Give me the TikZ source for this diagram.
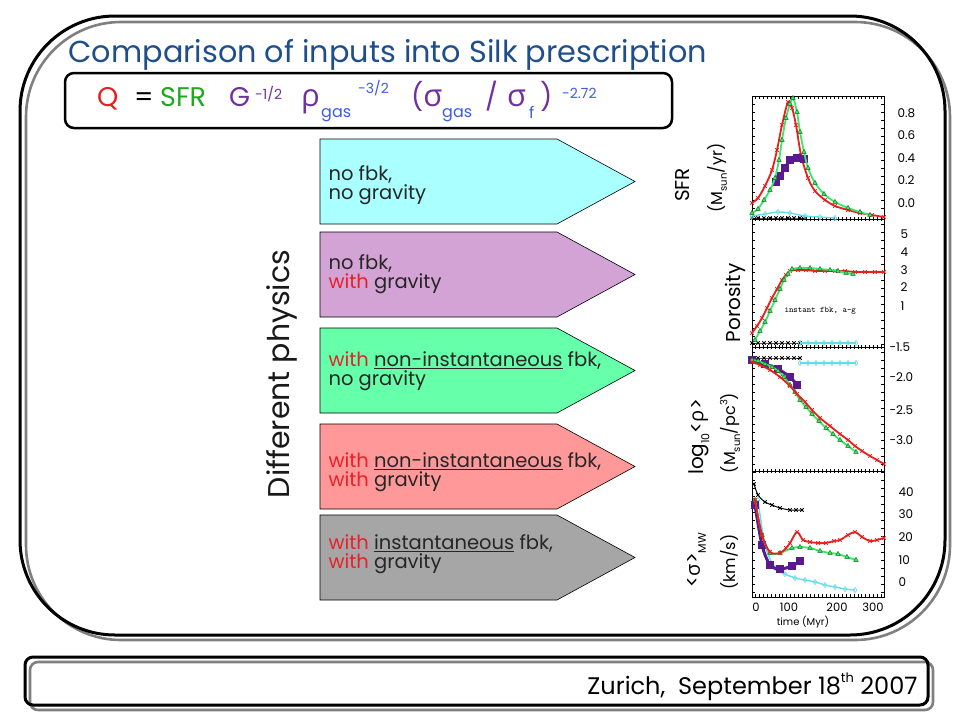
\documentclass[tikz,border=0pt]{standalone}
\usepackage{fontspec}
\setmainfont{Poppins}
\newfontfamily\greekfont{Open Sans}
\usetikzlibrary{plotmarks}

\definecolor{titleblue}{RGB}{31,78,140}
\definecolor{qred}{RGB}{230,30,30}
\definecolor{sfrgreen}{RGB}{30,170,30}
\definecolor{gpurple}{RGB}{112,48,160}
\definecolor{gasblue}{RGB}{60,90,230}
\definecolor{withred}{RGB}{232,32,42}
\definecolor{fbcyan}{RGB}{170,255,255}
\definecolor{fbpurple}{RGB}{210,163,212}
\definecolor{fbgreen}{RGB}{102,255,170}
\definecolor{fbpink}{RGB}{255,153,153}
\definecolor{fbgray}{RGB}{166,166,166}
\definecolor{runred}{RGB}{235,30,30}
\definecolor{rungreen}{RGB}{60,230,110}
\definecolor{runpurple}{RGB}{90,25,140}
\definecolor{runcyan}{RGB}{100,220,235}

\newcommand\sups[1]{\raisebox{0.5em}{\fontsize{15}{15}\selectfont #1}}
\newcommand\subs[1]{\raisebox{-0.3em}{\fontsize{15}{15}\selectfont #1}}
\newcommand\withr{\textcolor{withred}{with}}

\begin{document}
\begin{tikzpicture}[x=1pt,y=-1pt,
  phystext/.style={anchor=west,align=left,font=\fontsize{19.5}{19}\selectfont,text=black!85},
  axislabel/.style={rotate=90,font=\fontsize{20}{20}\selectfont},
  unitlabel/.style={rotate=90,font=\fontsize{16}{16}\selectfont},
  ticklabel/.style={anchor=west,font=\fontsize{12}{12}\selectfont},
  redrun/.style={draw=runred,line width=1.8pt,mark=x,mark size=2.4pt,mark options={line width=0.9pt}},
  greenrun/.style={draw=rungreen,line width=1.8pt,mark=triangle*,mark size=2.6pt,mark options={fill=rungreen,draw=green!40!black,line width=0.4pt}},
  purplerun/.style={draw=runpurple,line width=3pt,mark=square*,mark size=2.2pt,mark options={fill=runpurple}},
  cyanrun/.style={draw=runcyan,line width=1.4pt,mark=diamond,mark size=2.6pt,mark options={line width=0.6pt}},
  blackrun/.style={draw=black,line width=1pt,mark=x,mark size=2.4pt,mark options={line width=0.8pt}}]
\useasboundingbox (0,0) rectangle (960,720);

% slide frames
\draw[black!50,line width=2.6pt,rounded corners=95pt] (26,22) rectangle (950,640);
\draw[black,line width=3pt,rounded corners=95pt] (20,16) rectangle (945,635);
\draw[black!50,line width=2.6pt,rounded corners=8pt] (30,662) rectangle (933,710);
\draw[black,line width=3pt,rounded corners=8pt] (25,657) rectangle (928,705);

% title and formula
\node[anchor=base west,text=titleblue,font=\fontsize{30.3}{30.3}\selectfont] (title) at (65,62)
  {Comparison of inputs into Silk prescription};
\draw[line width=2.5pt,rounded corners=9pt] (65,73) rectangle (672,128);
\foreach \xx/\yy/\col/\sz/\nm/\txt in {
  97/106/qred/27/qsym/Q, 134/106/black/27/eqsym/=, 160/106/sfrgreen/27/sfrsym/SFR,
  229/106/gpurple/27/gsym/G, 255/99/gpurple/14/gexp/{-1/2},
  301/106/gpurple/31/rhosym/{\greekfont ρ}, 321/117/gasblue/16/rhosub/gas, 358/93/gasblue/14/rhoexp/{-3/2},
  411/106/gpurple/27/sigsym/{({\fontsize{31}{31}\greekfont σ}}, 442/117/gasblue/16/sigsub/gas,
  485/106/gpurple/27/slash/{/}, 507/106/gpurple/31/sigf/{\greekfont σ}, 529/118/gasblue/16/fsub/f,
  540/106/gpurple/27/rpar/), 562/98/gasblue/14/qexp/{-2.72}}
  \node[anchor=base west,inner sep=0pt,text=\col,font=\fontsize{\sz}{\sz}\selectfont] (\nm) at (\xx,\yy) {\txt};

% the five runs
\node[rotate=90,font=\fontsize{30}{30}\selectfont,text=black!90] (physics) at (282,374) {Different physics};
\foreach \ytop/\fillc/\dy/\nm/\txt in {
  139/fbcyan/46/nofbknograv/{no fbk,\\no gravity},
  232/fbpurple/42/nofbkgrav/{no fbk,\\\withr{} gravity},
  328/fbgreen/43/nonintnograv/{\withr{} \underline{non-instantaneous} fbk,\\no gravity},
  424/fbpink/48/nonintgrav/{\withr{} \underline{non-instantaneous} fbk,\\\withr{} gravity},
  515/fbgray/39/instgrav/{\withr{} \underline{instantaneous} fbk,\\\withr{} gravity}}{
  \draw[fill=\fillc,line width=0.6pt] (320,\ytop) -- (557,\ytop) -- (635,\ytop+42.5)
    -- (557,\ytop+85) -- (320,\ytop+85) -- cycle;
  \node[phystext] (\nm) at (325,\ytop+\dy) {\txt};
}

% stacked plots
\draw[line width=0.6pt] (752,96) rectangle (884,597);
\foreach \yb in {219,347,471} \draw[line width=0.6pt] (752,\yb) -- (884,\yb);
\foreach \t in {0,10,...,320} {
  \foreach \yb in {219,347,471} \draw[line width=0.4pt] (755+\t*0.395,\yb-2) -- (755+\t*0.395,\yb+2);
  \draw[line width=0.4pt] (755+\t*0.395,96) -- (755+\t*0.395,99);
  \draw[line width=0.4pt] (755+\t*0.395,597) -- (755+\t*0.395,594);
}
\foreach \yy in {104,112,...,592} {
  \draw[line width=0.4pt] (752,\yy) -- (755,\yy);
  \draw[line width=0.4pt] (884,\yy) -- (881,\yy);
}

% SFR
\draw[blackrun] plot coordinates {(752,218) (758,218) (764,218) (770,218) (776,218) (782,218) (788,218) (794,218) (800,218) (805,218)};
\draw[cyanrun] plot[smooth] coordinates {(752,216) (765,214) (778,212) (790,213) (805,216) (820,217) (835,218)};
\draw[redrun] plot[smooth] coordinates {(752,203) (758,198) (765,186) (772,170) (777,150) (782,125) (788,102) (792,108) (796,125) (801,155) (808,178) (815,191) (825,200) (835,206) (848,210) (860,213) (872,215) (884,217)};
\draw[purplerun] plot[smooth] coordinates {(776,182) (780,176) (785,168) (790,160) (797,158) (804,159)};
\draw[greenrun] plot[smooth] coordinates {(752,213) (758,209) (764,200) (770,190) (775,178) (779,160) (782,140) (786,118) (790,104) (793,98) (797,112) (800,132) (804,152) (808,168) (815,183) (824,194) (835,202) (848,208) (860,212) (870,215)};

% porosity
\draw[blackrun] plot coordinates {(752,343) (758,343) (764,343) (770,343) (776,343) (782,343) (788,343) (794,343) (800,343)};
\draw[cyanrun] plot coordinates {(800,343) (808,343) (816,343) (824,343) (832,343) (840,343) (848,343) (856,343)};
\draw[redrun] plot[smooth] coordinates {(752,333) (757,326) (762,318) (767,308) (772,298) (777,289) (782,280) (786,275) (790,271) (798,270) (806,270) (815,271) (825,271) (835,271) (845,271) (855,272) (865,272) (875,272) (884,272)};
\draw[greenrun] plot[smooth] coordinates {(755,340) (760,331) (765,322) (770,311) (775,300) (780,289) (784,280) (788,274) (792,269) (800,268) (810,268) (820,269) (830,270) (838,271) (846,273) (853,274)};
\node[anchor=west,font=\ttfamily\fontsize{8.5}{8.5}\selectfont] (instlabel) at (781,311) {instant fbk, a-g};

% density
\draw[blackrun] plot coordinates {(752,358) (758,358) (764,358) (770,358) (776,358) (782,358) (788,358) (794,358) (800,358)};
\draw[cyanrun] plot coordinates {(800,363) (808,363) (816,363) (824,363) (832,363) (840,363) (848,363) (856,363)};
\draw[purplerun] plot[smooth] coordinates {(752,360) (765,364) (778,369) (790,377) (797,385)};
\draw[greenrun] plot[smooth] coordinates {(752,360) (758,361) (765,364) (772,367) (778,371) (784,377) (790,385) (795,392) (800,400) (806,407) (812,414) (819,421) (826,428) (833,434) (840,440) (848,446) (856,452)};
\draw[redrun] plot[smooth] coordinates {(752,362) (760,365) (770,370) (780,377) (790,386) (797,394) (805,402) (812,410) (820,418) (830,426) (840,434) (848,440) (855,446) (862,451) (870,456) (877,460) (884,464)};

% velocity dispersion
\draw[blackrun] plot[smooth] coordinates {(754,484) (758,495) (765,502) (772,505) (780,508) (790,510) (796,510) (802,510)};
\draw[cyanrun] plot[smooth] coordinates {(758,500) (765,545) (775,568) (785,574) (795,578) (805,580) (815,582) (825,585) (835,587) (845,589) (855,590)};
\draw[purplerun] plot[smooth] coordinates {(755,505) (762,545) (770,565) (780,569) (792,566) (800,561)};
\draw[greenrun] plot[smooth] coordinates {(755,500) (762,535) (770,553) (780,553) (792,548) (800,547) (810,548) (820,551) (830,553) (838,554) (847,557) (856,560)};
\draw[redrun] plot[smooth] coordinates {(755,500) (762,535) (770,552) (780,553) (786,548) (790,543) (797,532) (803,540) (810,542) (818,543) (826,543) (834,541) (840,540) (848,535) (855,532) (862,537) (870,541) (877,540) (884,538)};

% tick labels
\foreach \val/\yy in {0.8/113,0.6/135,0.4/158,0.2/180,0.0/203} \node[ticklabel] (sfr\yy) at (894,\yy) {\val};
\foreach \val/\yy in {5/234,4/252,3/270,2/287,1/306} \node[ticklabel] (por\yy) at (897,\yy) {\val};
\foreach \val/\yy in {-1.5/347,-2.0/377,-2.5/410,-3.0/440} \node[ticklabel] (rho\yy) at (886,\yy) {\val};
\foreach \val/\yy in {40/492,30/514,20/537,10/560,0/582} \node[ticklabel] (sig\yy) at (895,\yy) {\val};
\foreach \val/\xx in {0/756,100/789,200/837,300/873} \node[font=\fontsize{11.5}{11.5}\selectfont] (time\val) at (\xx,607) {\val};
\node[font=\fontsize{10}{10}\selectfont] (timelabel) at (803,622) {time (Myr)};

% axis titles
\node[axislabel] (sfrtitle) at (682,185) {SFR};
\node[unitlabel] (sfrunit) at (717,178) {(M\subs{\fontsize{10}{10}\selectfont sun}/yr)};
\node[axislabel] (portitle) at (735,303) {Porosity};
\node[axislabel] (rhotitle) at (699,437) {log\subs{\fontsize{11}{11}\selectfont 10}<{\greekfont ρ}>};
\node[unitlabel] (rhounit) at (730,433) {(M\subs{\fontsize{10}{10}\selectfont sun}/pc\sups{\fontsize{10}{10}\selectfont 3})};
\node[axislabel] (sigtitle) at (697,560) {<{\greekfont σ}>\subs{\fontsize{11}{11}\selectfont MW}};
\node[unitlabel] (sigunit) at (729,562) {(km/s)};

% footer
\node[anchor=base east,font=\fontsize{24}{24}\selectfont] (place) at (921,694)
  {Zurich,\ \ September 18\sups{\fontsize{13}{13}\selectfont th} 2007};
\end{tikzpicture}
\end{document}
